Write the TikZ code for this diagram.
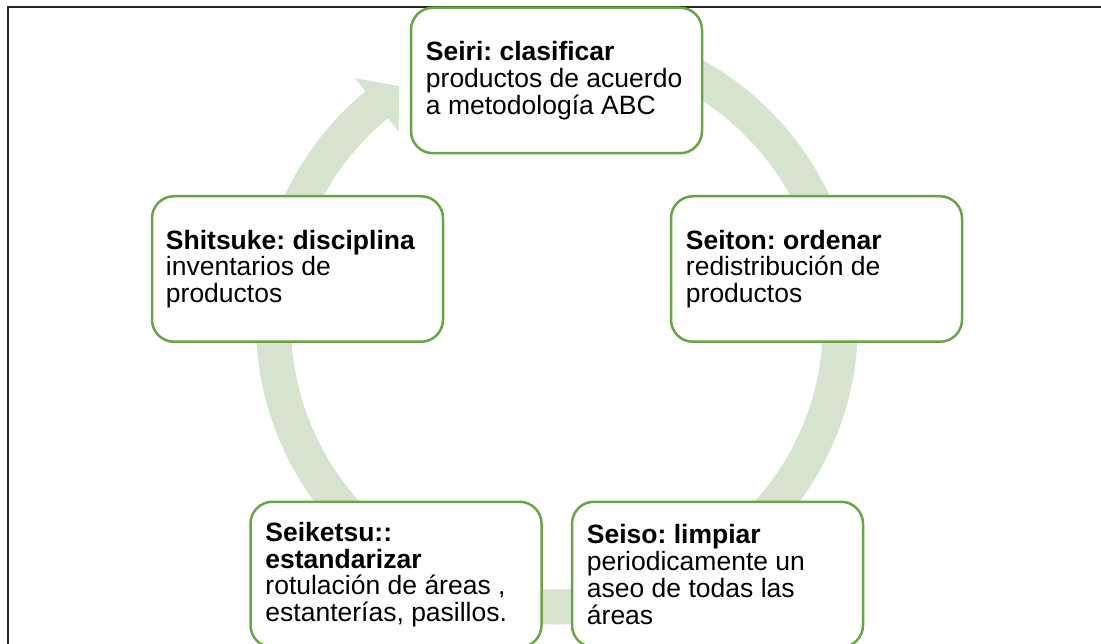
\documentclass[tikz,border=0pt]{standalone}
\usepackage{fontspec}
\setmainfont{Liberation Sans}
\frenchspacing
\definecolor{boxgreen}{RGB}{106,165,69}
\definecolor{ringgreen}{RGB}{214,228,207}
\begin{document}
\begin{tikzpicture}[x=1pt,y=-1pt,
  stepbox/.style={draw=boxgreen, line width=2.5pt, fill=white, rounded corners=22pt,
    minimum width=291pt, minimum height=145.5pt, inner sep=0pt},
  steptext/.style={anchor=west, inner sep=0pt, align=left,
    font=\fontsize{26.5}{26.7}\selectfont},
  ring/.style={fill=ringgreen},
  frame/.style={draw=black!85, line width=2pt}]
\useasboundingbox (0,0) rectangle (1101,644);
\coordinate (fa) at (1101,7);
\coordinate (fb) at (8,7);
\coordinate (fc) at (8,644);
\draw[frame] (fa) -- (fb) -- (fc);
% circular arrow behind the steps
\coordinate (c) at (557,323.5);
\coordinate (tip) at (399.1,86.2);
\fill[ring] ([shift={(c)}]270:301) arc[start angle=270, end angle=590.5, radius=301]
  -- ([shift={(c)}]590.5:318) -- (tip) -- ([shift={(c)}]590.5:249)
  -- ([shift={(c)}]590.5:266) arc[start angle=590.5, end angle=270, radius=266] -- cycle;
% steps
\node[stepbox] (seiri) at (556.5,80.5) {};
\node[steptext] (seiri-t) at ([xshift=16pt]seiri.west) {\textbf{Seiri: clasificar}\\productos de acuerdo\\a metodología ABC};
\node[stepbox] (seiton) at (816.5,269) {};
\node[steptext] (seiton-t) at ([xshift=16pt]seiton.west) {\textbf{Seiton: ordenar}\\redistribución de\\productos};
\node[stepbox] (shitsuke) at (297.5,269) {};
\node[steptext] (shitsuke-t) at ([xshift=15pt]shitsuke.west) {\textbf{Shitsuke: disciplina}\\inventarios de\\productos};
\node[stepbox] (seiketsu) at (396,574.5) {};
\node[steptext] (seiketsu-t) at ([xshift=16pt]seiketsu.west) {\textbf{Seiketsu::}\\\textbf{estandarizar}\\rotulación de áreas ,\\estanterías, pasillos.};
\node[stepbox] (seiso) at (717.5,574.5) {};
\node[steptext] (seiso-t) at ([xshift=16pt]seiso.west) {\textbf{Seiso: limpiar}\\periodicamente un\\aseo de todas las\\áreas};
\end{tikzpicture}
\end{document}
